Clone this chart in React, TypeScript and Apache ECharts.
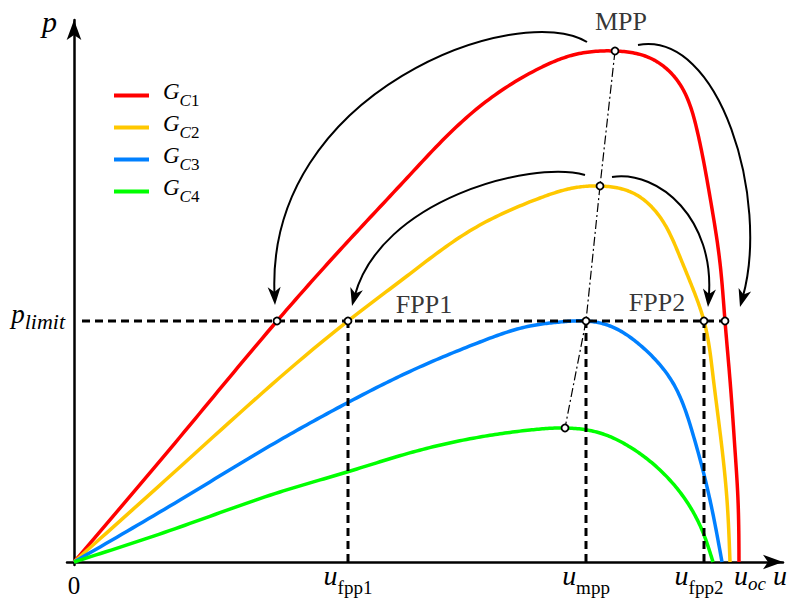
import React, { useEffect, useRef } from 'react';
import * as echarts from 'echarts';

const FONT = '"Liberation Serif", "Times New Roman", serif';

// P-U curves for four irradiance levels (u, p)
const seriesNames = ['GC1', 'GC2', 'GC3', 'GC4'];
const seriesColors = ['#FF0000', '#FFC800', '#0080FF', '#00FF00'];
const curveC1 = [[0, 0], [106, 125], [203, 241], [266, 312], [333, 384], [399, 450], [466, 494], [499, 507], [541, 511], [576, 504], [603, 482], [623, 432], [636, 365], [646, 299], [651, 241], [656, 182], [661, 112], [664, 62], [665, 0]];
const curveC2 = [[0, 0], [106, 95], [274, 241], [333, 286], [399, 333], [466, 364], [499, 374], [526, 376], [559, 369], [586, 345], [606, 305], [619, 273], [630, 241], [639, 186], [647, 122], [653, 62], [656, 0]];
const curveC3 = [[0, 0], [106, 62], [206, 122], [273, 159], [339, 192], [406, 220], [456, 236], [486, 240], [512, 241], [536, 236], [566, 217], [599, 179], [618, 131], [636, 62], [648, 0]];
const curveC4 = [[0, 0], [106, 35], [206, 70], [273, 90], [339, 110], [406, 125], [456, 132], [491, 134], [526, 129], [556, 115], [586, 92], [613, 60], [628, 32], [639, 0]];
const curves = [curveC1, curveC2, curveC3, curveC4];

// maximum power points
const mppU = [541, 526, 512, 491];
const mppP = [511, 376, 241, 134];

// power limit and flexible power points
const pLimit = 241;
const fppU = [203, 274, 630, 651];
const uFpp1 = 274;
const uMpp = 512;
const uFpp2 = 630;
const limitLineStart = 8;

// curved arrows: start, control1, control2, tip (u,p)
const arrows = [
  [513, 520, 446, 562, 191, 472, 201, 257],
  [511, 387, 456, 402, 306, 362, 278, 256],
  [564, 517, 646, 532, 696, 362, 666, 255],
  [538, 385, 586, 392, 641, 342, 634, 255],
];

// annotation texts
const annotationNames = ['MPP', 'FPP1', 'FPP2'];
const annotationU = [547, 350, 583];
const annotationP = [541, 258, 260];

// axis labels
const xLabelValues = [0, 274, 512, 625, 676, 706];
const xLabelMain = ['0', 'u', 'u', 'u', 'u', 'u'];
const xLabelSub = ['', 'fpp1', 'mpp', 'fpp2', 'oc', ''];
const yLabelValues = [241, 541];
const yLabelMain = ['p', 'p'];
const yLabelSub = ['limit', ''];

type Pt = [number, number];

// chord-length parametrised natural cubic spline through pixel points
function spline(pts: Pt[], samples: number): Pt[] {
  const n = pts.length;
  if (n < 3) return pts.slice();
  const t: number[] = [0];
  for (let i = 1; i < n; i++) {
    t.push(t[i - 1] + Math.max(Math.hypot(pts[i][0] - pts[i - 1][0], pts[i][1] - pts[i - 1][1]), 1e-3));
  }
  const solve = (c: number[]) => {
    const M = new Array(n).fill(0);
    const a: number[] = [], b: number[] = [], cc: number[] = [], d: number[] = [];
    for (let i = 1; i < n - 1; i++) {
      const h0 = t[i] - t[i - 1];
      const h1 = t[i + 1] - t[i];
      a.push(h0);
      b.push(2 * (h0 + h1));
      cc.push(h1);
      d.push(6 * ((c[i + 1] - c[i]) / h1 - (c[i] - c[i - 1]) / h0));
    }
    const m = a.length;
    for (let i = 1; i < m; i++) {
      const w = a[i] / b[i - 1];
      b[i] -= w * cc[i - 1];
      d[i] -= w * d[i - 1];
    }
    const x = new Array(m).fill(0);
    for (let i = m - 1; i >= 0; i--) {
      x[i] = (d[i] - (i < m - 1 ? cc[i] * x[i + 1] : 0)) / b[i];
    }
    for (let i = 0; i < m; i++) M[i + 1] = x[i];
    return M;
  };
  const xs = pts.map((p) => p[0]);
  const ys = pts.map((p) => p[1]);
  const Mx = solve(xs);
  const My = solve(ys);
  const out: Pt[] = [];
  for (let i = 0; i < n - 1; i++) {
    const h = t[i + 1] - t[i];
    for (let k = 0; k < samples; k++) {
      const tt = t[i] + (h * k) / samples;
      const A = (t[i + 1] - tt) / h;
      const B = (tt - t[i]) / h;
      const f = (c: number[], M: number[]) =>
        A * c[i] + B * c[i + 1] + ((A * A * A - A) * M[i] + (B * B * B - B) * M[i + 1]) * h * h / 6;
      out.push([f(xs, Mx), f(ys, My)]);
    }
  }
  out.push(pts[n - 1]);
  return out;
}

export default function App() {
  const ref = useRef<HTMLDivElement>(null);
  useEffect(() => {
    if (!ref.current) return;
    const chart = echarts.init(ref.current, null, { renderer: 'svg' });

    const curveSeries = curves.map((c, i) => ({
      name: seriesNames[i],
      type: 'custom',
      data: c,
      encode: { x: 0, y: 1 },
      itemStyle: { color: seriesColors[i] },
      z: 3,
      silent: true,
      renderItem: (params: any, api: any) => {
        if (params.dataIndex !== 0) return null;
        const px = c.map((p) => api.coord(p) as Pt);
        return {
          type: 'polyline',
          shape: { points: spline(px, 20) },
          style: { stroke: seriesColors[i], lineWidth: 3.5, fill: 'none', lineJoin: 'round' },
        };
      },
    }));

    const dashStyle = { color: '#000', width: 3, type: [8, 5] };
    const guideSeries = [
      {
        type: 'line', data: [[limitLineStart, pLimit], [fppU[3], pLimit]], symbol: 'none',
        lineStyle: dashStyle, z: 4, silent: true,
      },
      ...[uFpp1, uMpp, uFpp2].map((u) => ({
        type: 'line', data: [[u, 0], [u, pLimit]], symbol: 'none',
        lineStyle: dashStyle, z: 4, silent: true,
      })),
      {
        type: 'line', data: mppU.map((u, i) => [u, mppP[i]]), symbol: 'none',
        lineStyle: { color: '#000', width: 1.2, type: [9, 3, 2, 3] }, z: 4, silent: true,
      },
    ];

    const markerSeries = {
      type: 'scatter',
      data: [
        ...mppU.map((u, i) => [u, mppP[i]]),
        ...fppU.map((u) => [u, pLimit]),
      ],
      symbol: 'circle',
      symbolSize: 7,
      itemStyle: { color: '#fff', borderColor: '#000', borderWidth: 1.8, opacity: 1 },
      z: 10,
      silent: true,
    };

    const textSeries = {
      type: 'scatter',
      data: annotationNames.map((n, i) => ({ name: n, value: [annotationU[i], annotationP[i]] })),
      symbolSize: 1,
      itemStyle: { color: 'rgba(0,0,0,0)' },
      label: {
        show: true, position: 'inside', formatter: '{b}',
        fontFamily: FONT, fontSize: 26, color: '#000',
      },
      z: 11,
      silent: true,
    };

    const arrowSeries = {
      type: 'custom',
      data: arrows,
      encode: { x: [0, 2, 4, 6], y: [1, 3, 5, 7] },
      silent: true,
      z: 6,
      renderItem: (params: any, api: any) => {
        const p0 = api.coord([api.value(0), api.value(1)]);
        const p1 = api.coord([api.value(2), api.value(3)]);
        const p2 = api.coord([api.value(4), api.value(5)]);
        const p3 = api.coord([api.value(6), api.value(7)]);
        const dx = p3[0] - p2[0];
        const dy = p3[1] - p2[1];
        const len = Math.hypot(dx, dy) || 1;
        const ux = dx / len;
        const uy = dy / len;
        const nx = -uy;
        const ny = ux;
        const L = 18;
        const W = 6.5;
        const notch = 5;
        const bx = p3[0] - ux * L;
        const by = p3[1] - uy * L;
        const ex = p3[0] - ux * 10;
        const ey = p3[1] - uy * 10;
        return {
          type: 'group',
          children: [
            {
              type: 'bezierCurve',
              shape: { x1: p0[0], y1: p0[1], cpx1: p1[0], cpy1: p1[1], cpx2: p2[0], cpy2: p2[1], x2: ex, y2: ey },
              style: { stroke: '#000', lineWidth: 2, fill: 'none' },
            },
            {
              type: 'polygon',
              shape: {
                points: [
                  [p3[0], p3[1]],
                  [bx + nx * W, by + ny * W],
                  [p3[0] - ux * (L - notch), p3[1] - uy * (L - notch)],
                  [bx - nx * W, by - ny * W],
                ],
              },
              style: { fill: '#000', stroke: 'none' },
            },
          ],
        };
      },
    };

    const axisLineStyle = { color: '#000', width: 2.5 };

    chart.setOption({
      animation: false,
      backgroundColor: '#fff',
      grid: { left: 67, right: 11, top: 20, bottom: 41 },
      legend: {
        data: seriesNames,
        orient: 'vertical',
        left: 114,
        top: 80,
        padding: 0,
        icon: 'rect',
        itemWidth: 35,
        itemHeight: 4,
        itemGap: 1,
        selectedMode: false,
        formatter: (name: string) => `{g|G}{c|C}{n|${name.slice(2)}}`,
        textStyle: {
          color: '#000',
          fontFamily: FONT,
          rich: {
            g: { fontFamily: FONT, fontStyle: 'italic', fontSize: 23, lineHeight: 22, padding: [0, 0, 8, 9], color: '#000' },
            c: { fontFamily: FONT, fontStyle: 'italic', fontSize: 17, lineHeight: 16, padding: [9, 0, 0, 0], color: '#000' },
            n: { fontFamily: FONT, fontSize: 17, lineHeight: 16, padding: [9, 0, 0, 0], color: '#000' },
          },
        },
      },
      xAxis: {
        type: 'value',
        min: -7,
        max: 709,
        splitLine: { show: false },
        axisTick: { show: false },
        axisLine: { onZero: true, symbol: ['none', 'arrow'], symbolSize: [11, 20], lineStyle: axisLineStyle },
        axisLabel: {
          customValues: xLabelValues,
          margin: 1,
          color: '#000',
          formatter: (v: number) => {
            const i = xLabelValues.indexOf(v);
            if (i < 0) return '';
            if (xLabelMain[i] === '0') return `{z|${xLabelMain[i]}}`;
            const sub = xLabelSub[i];
            if (!sub) return `{u|${xLabelMain[i]}}`;
            return sub === 'oc' ? `{u|${xLabelMain[i]}}{si|${sub}}` : `{u|${xLabelMain[i]}}{s|${sub}}`;
          },
          rich: {
            z: { fontFamily: FONT, fontSize: 25, lineHeight: 26, padding: [14, 0, 2, 0], color: '#000' },
            u: { fontFamily: FONT, fontStyle: 'italic', fontSize: 28, lineHeight: 30, padding: [0, 0, 12, 0], color: '#000' },
            s: { fontFamily: FONT, fontSize: 19, lineHeight: 20, padding: [12, 0, 0, 0], color: '#000' },
            si: { fontFamily: FONT, fontStyle: 'italic', fontSize: 19, lineHeight: 20, padding: [4, 0, 0, 0], color: '#000' },
          },
        },
      },
      yAxis: {
        type: 'value',
        min: -3,
        max: 542,
        splitLine: { show: false },
        axisTick: { show: false },
        axisLine: { onZero: true, symbol: ['none', 'arrow'], symbolSize: [11, 20], lineStyle: axisLineStyle },
        axisLabel: {
          customValues: yLabelValues,
          margin: 2,
          color: '#000',
          formatter: (v: number) => {
            const i = yLabelValues.indexOf(v);
            if (i < 0) return '';
            return yLabelSub[i] ? `{P|${yLabelMain[i]}}{lim|${yLabelSub[i]}}` : `{T|${yLabelMain[i]}}`;
          },
          rich: {
            P: { fontFamily: FONT, fontStyle: 'italic', fontSize: 27, lineHeight: 28, padding: [0, 0, 14, 0], color: '#000' },
            lim: { fontFamily: FONT, fontStyle: 'italic', fontSize: 22, lineHeight: 22, color: '#000' },
            T: { fontFamily: FONT, fontStyle: 'italic', fontSize: 30, lineHeight: 32, padding: [0, 8, 0, 0], color: '#000' },
          },
        },
      },
      series: [...curveSeries, ...guideSeries, arrowSeries, markerSeries, textSeries],
    });

    return () => chart.dispose();
  }, []);

  return (
    <div
      ref={ref}
      style={{ position: 'absolute', left: 0, top: 0, width: 794, height: 606, background: '#fff' }}
    />
  );
}
